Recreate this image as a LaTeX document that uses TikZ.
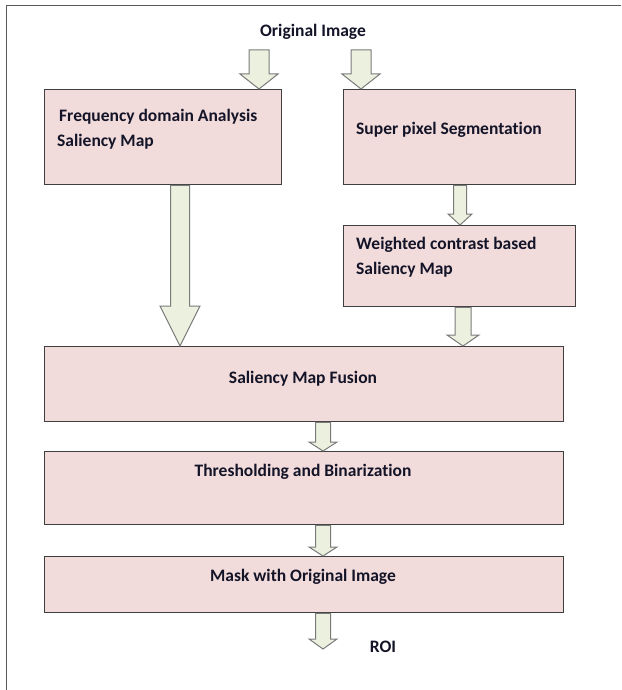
\documentclass[tikz,border=0pt]{standalone}
\usepackage{fontspec}
\setmainfont{Carlito}[Ligatures=NoCommon]
\usetikzlibrary{calc}
\definecolor{boxfill}{HTML}{F2DCDB}
\definecolor{arrfill}{HTML}{EBF1DE}
\definecolor{arrline}{HTML}{7A7A7A}
\definecolor{boxline}{HTML}{3F3F3F}
\definecolor{txt}{HTML}{141428}
\definecolor{frameline}{HTML}{5A5A5A}
\tikzset{
  box/.style={draw=boxline, line width=1.3pt, fill=boxfill, rectangle, inner sep=0pt, anchor=north west},
  lbl/.style={font=\bfseries\fontsize{17.5}{20}\selectfont, text=txt, inner sep=0pt},
  arr/.style={draw=arrline, line width=1pt, fill=arrfill, line join=miter},
}
% #1 start, #2 tip, #3 half shaft, #4 half head, #5 head length
\newcommand{\blockarrow}[5]{%
  \draw[arr] let \p1=(#1), \p2=(#2) in
    (\x1-#3,\y1) -- (\x1-#3,\y2+#5) -- (\x1-#4,\y2+#5) -- (\x1,\y2)
    -- (\x1+#4,\y2+#5) -- (\x1+#3,\y2+#5) -- (\x1+#3,\y1) -- cycle;}
\begin{document}
\begin{tikzpicture}[x=1pt,y=-1pt]
\useasboundingbox (0,0) rectangle (621,690);
% outer frame
\draw[frameline, line width=1.6pt] (6.5,690) -- (6.5,5.5) -- (621,5.5);
% boxes
\node[box, minimum width=237pt, minimum height=95pt] (fda) at (44,89) {};
\node[box, minimum width=232pt, minimum height=95pt] (sps) at (343,89) {};
\node[box, minimum width=232pt, minimum height=81pt] (wcs) at (343,225) {};
\node[box, minimum width=519pt, minimum height=75pt] (fus) at (44,346) {};
\node[box, minimum width=519pt, minimum height=73pt] (thr) at (44,451) {};
\node[box, minimum width=519pt, minimum height=56pt] (msk) at (44,556) {};
% labels
\node[lbl] (orig) at (313,31.5) {Original Image};
\node[lbl, anchor=west] (fdaA) at (59,116.5) {Frequency domain Analysis};
\node[lbl, anchor=west] (fdaB) at (57,141.5) {Saliency Map};
\node[lbl, anchor=west] (spsA) at (356,129.5) {Super pixel Segmentation};
\node[lbl, anchor=west] (wcsA) at (356,244.5) {Weighted contrast based};
\node[lbl, anchor=west] (wcsB) at (356,269.5) {Saliency Map};
\node[lbl] (fusA) at (303,378.5) {Saliency Map Fusion};
\node[lbl] (thrA) at (303,471.5) {Thresholding and Binarization};
\node[lbl] (mskA) at (303,576.5) {Mask with Original Image};
\node[lbl] (roi) at (383,646.5) {ROI};
% arrow start / end coordinates
\coordinate (a1) at (259,50);
\coordinate (a2) at (361,50);
\coordinate (t1) at (259,0 |- fda.north);
\coordinate (t2) at (361,0 |- sps.north);
\coordinate (c1) at (180,0 |- fda.south);
\coordinate (ct) at (180,0 |- fus.north);
\coordinate (d1) at (460,0 |- sps.south);
\coordinate (dt) at (460,0 |- wcs.north);
\coordinate (e1) at (463,0 |- wcs.south);
\coordinate (et) at (463,0 |- fus.north);
\coordinate (f1) at (323,0 |- fus.south);
\coordinate (ft) at (323,0 |- thr.north);
\coordinate (g1) at (323,0 |- thr.south);
\coordinate (gt) at (323,0 |- msk.north);
\coordinate (h1) at (323,0 |- msk.south);
\coordinate (ht) at (323,649);
% arrows
\blockarrow{a1}{t1}{10pt}{19pt}{15pt}
\blockarrow{a2}{t2}{10pt}{19pt}{15pt}
\blockarrow{c1}{ct}{9.5pt}{20pt}{40pt}
\blockarrow{d1}{dt}{6.5pt}{12pt}{11pt}
\blockarrow{e1}{et}{8pt}{16pt}{11pt}
\blockarrow{f1}{ft}{7.5pt}{14pt}{9pt}
\blockarrow{g1}{gt}{7.5pt}{14pt}{9pt}
\blockarrow{h1}{ht}{7.5pt}{14pt}{10pt}
\end{tikzpicture}
\end{document}
